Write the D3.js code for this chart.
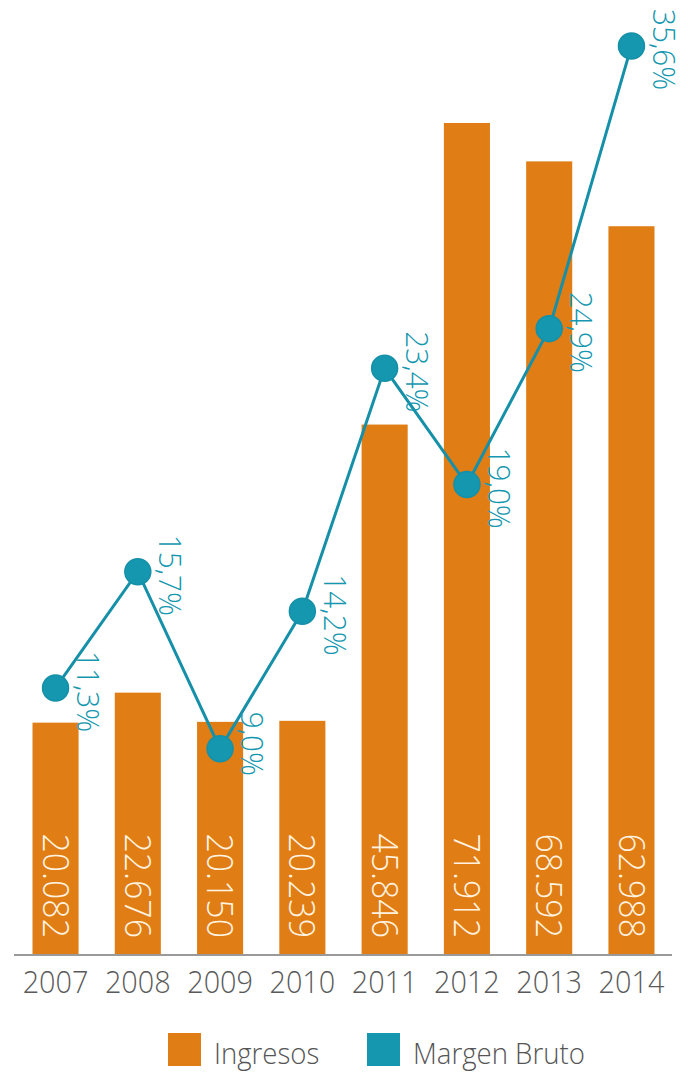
<!DOCTYPE html>
<html>
<head>
<meta charset="utf-8">
<script src="https://cdn.jsdelivr.net/npm/d3@7"></script>
<style>
  html, body { margin: 0; padding: 0; background: #ffffff; }
  svg { display: block; }
  text { font-family: "Open Sans", "DejaVu Sans", sans-serif; font-weight: 300; }
</style>
</head>
<body>
<div id="chart"></div>
<script>
// Years on the x axis
const years = ["2007", "2008", "2009", "2010", "2011", "2012", "2013", "2014"];
// Ingresos (bars)
const ingresos = [20.082, 22.676, 20.150, 20.239, 45.846, 71.912, 68.592, 62.988];
// Margen Bruto in % (line)
const margen = [11.3, 15.7, 9.0, 14.2, 23.4, 19.0, 24.9, 35.6];
// Legend entries
const legendLabels = ["Ingresos", "Margen Bruto"];

const W = 688, H = 1074;
const orange = "#E07D14";
const teal = "#1497AF";
const tealLine = "#1590A8";

const svg = d3.select("#chart").append("svg")
  .attr("width", W).attr("height", H);

const baseY = 955;

const x = d3.scaleBand()
  .domain(years)
  .range([14.4, 672.6])
  .paddingInner(0.44)
  .paddingOuter(0.22);

const yBar = d3.scaleLinear().domain([0, 80]).range([baseY, baseY - 80 * 11.57]);
const yPct = d3.scaleLinear().domain([0, 40]).range([986.5, 986.5 - 40 * 26.42]);

const esNum = d3.formatLocale({ decimal: ",", thousands: ".", grouping: [3], currency: ["", "€"] });
const fmtIng = v => esNum.format(",.3f")(v).replace(",", ".");
const fmtPct = v => esNum.format(".1f")(v) + "%";

// Bars
svg.append("g").selectAll("rect")
  .data(ingresos)
  .join("rect")
  .attr("x", (d, i) => x(years[i]))
  .attr("width", x.bandwidth())
  .attr("y", d => yBar(d))
  .attr("height", d => baseY - yBar(d))
  .attr("fill", orange);

// Value labels inside the bars, read top to bottom
svg.append("g").selectAll("text")
  .data(ingresos)
  .join("text")
  .attr("transform", (d, i) => `translate(${x(years[i]) + x.bandwidth() / 2},${baseY - 17}) rotate(90) scale(0.94,1)`)
  .attr("text-anchor", "end")
  .attr("dy", "0.36em")
  .attr("font-size", 36)
  .attr("fill", "#FFF3E0")
  .text(d => fmtIng(d));

// Baseline
const xAxis = d3.axisBottom(x).tickSize(0).tickPadding(0);
const axisG = svg.append("g")
  .attr("transform", `translate(0,${baseY})`)
  .call(xAxis);
axisG.select(".domain")
  .attr("d", `M14,0H672`)
  .attr("stroke", "#9a9a9a")
  .attr("stroke-width", 2.2);
axisG.selectAll(".tick text")
  .attr("font-size", 32)
  .attr("fill", "#5a5a5a")
  .attr("y", 0)
  .attr("dy", 0)
  .attr("transform", "translate(0,38) scale(0.9,1)");

// Margen Bruto line
const cx = (d, i) => x(years[i]) + x.bandwidth() / 2;
const line = d3.line()
  .x((d, i) => cx(d, i))
  .y(d => yPct(d));

svg.append("path")
  .datum(margen)
  .attr("d", line)
  .attr("fill", "none")
  .attr("stroke", tealLine)
  .attr("stroke-width", 3);

svg.append("g").selectAll("circle")
  .data(margen)
  .join("circle")
  .attr("cx", cx)
  .attr("cy", d => yPct(d))
  .attr("r", 13)
  .attr("fill", teal)
  .attr("stroke", tealLine)
  .attr("stroke-width", 1.5);

// Percentage labels beside the points
svg.append("g").selectAll("text")
  .data(margen)
  .join("text")
  .attr("transform", (d, i) => `translate(${cx(d, i) + 36},${yPct(d) - 37}) rotate(90) scale(0.93,1)`)
  .attr("text-anchor", "start")
  .attr("dy", "0.46em")
  .attr("font-size", 32)
  .attr("fill", teal)
  .text(d => fmtPct(d));

// Legend
const legendColors = [orange, teal];
const legendX = [168, 367];
const legend = svg.append("g").selectAll("g")
  .data(legendLabels)
  .join("g")
  .attr("transform", (d, i) => `translate(${legendX[i]},1033)`);
legend.append("rect")
  .attr("width", 33).attr("height", 33)
  .attr("fill", (d, i) => legendColors[i]);
legend.append("text")
  .attr("transform", "translate(46,31) scale(0.92,1)")
  .attr("font-size", 30)
  .attr("fill", "#555555")
  .text(d => d);
</script>
</body>
</html>
